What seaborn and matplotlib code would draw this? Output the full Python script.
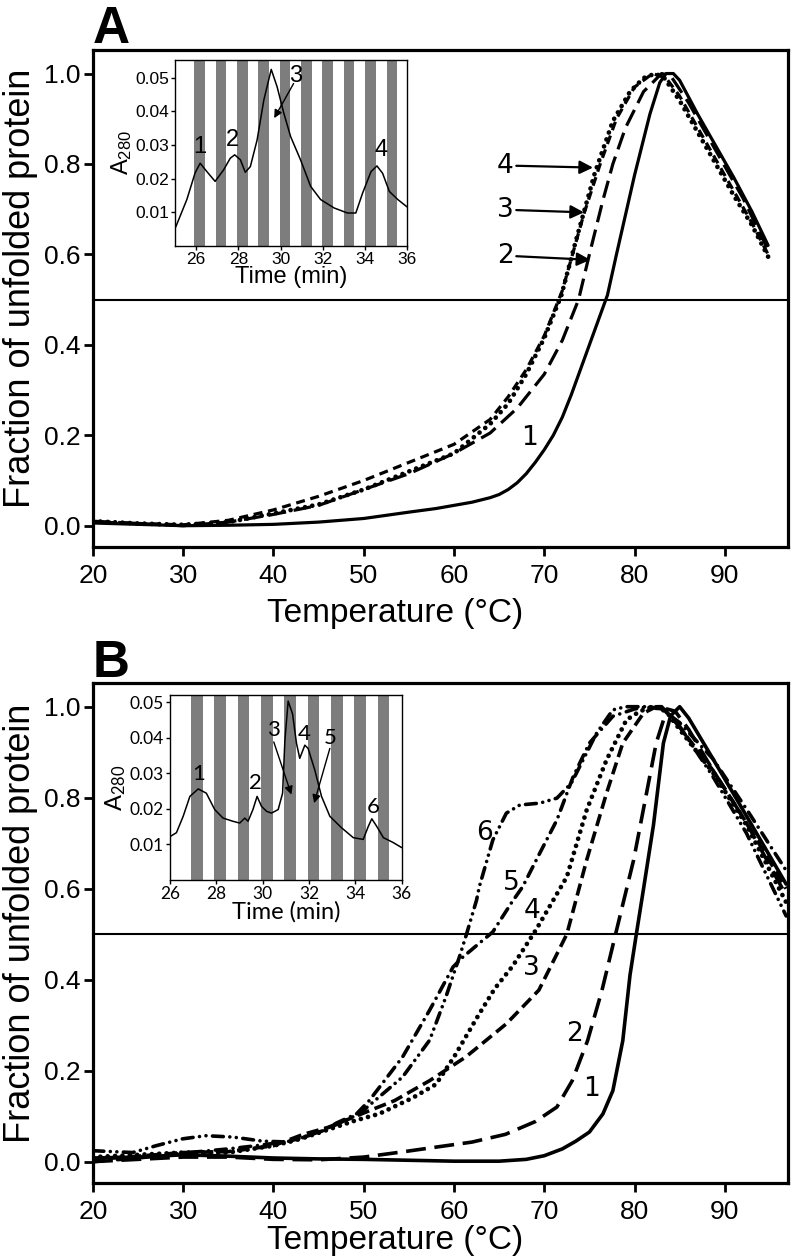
'''
Thermal unfolding curves of the chromatography fractions (panels A and B)
with the A280 elution profiles as insets.
'''

import pandas as pd
import seaborn as sns
import matplotlib.pyplot as plt

# ---- panel A : unfolding curves (temperature in C, fraction unfolded) ----
a1_temp = [20, 25, 30, 35, 40, 45, 50, 55, 58, 60, 62, 64, 65, 66, 67, 68, 69, 70, 71, 72, 73, 74,
           75, 76, 77, 78, 80, 81.7, 82.8, 83.5, 84.3, 85, 87, 89, 91, 93, 94.8]
a1_frac = [0.006, 0.003, 0.0, 0.001, 0.003, 0.008, 0.016, 0.03, 0.038, 0.045, 0.052, 0.062, 0.069,
           0.08, 0.095, 0.115, 0.14, 0.168, 0.2, 0.24, 0.29, 0.345, 0.4, 0.455, 0.51, 0.6, 0.775,
           0.91, 0.98, 1.0, 1.0, 0.985, 0.91, 0.84, 0.77, 0.695, 0.62]
a2_temp = [20, 25, 30, 35, 40, 45, 50, 55, 60, 64, 67, 70, 72, 73.8, 75, 76.5, 77.6, 79, 81, 83,
           84, 86, 88, 90, 92, 94.8]
a2_frac = [0.01, 0.005, 0.0, 0.008, 0.025, 0.045, 0.08, 0.115, 0.16, 0.205, 0.26, 0.335, 0.41, 0.5,
           0.6, 0.72, 0.8, 0.88, 0.96, 1.0, 0.995, 0.935, 0.865, 0.795, 0.725, 0.61]
a3_temp = [20, 25, 30, 35, 40, 45, 50, 55, 60, 64, 66, 68, 70, 72, 74.4, 76.2, 78, 80, 82, 83.5,
           85, 87, 89, 91, 93, 94.8]
a3_frac = [0.008, 0.005, 0.002, 0.012, 0.035, 0.065, 0.1, 0.14, 0.18, 0.235, 0.285, 0.345, 0.42,
           0.52, 0.69, 0.8, 0.9, 0.97, 1.0, 0.99, 0.95, 0.88, 0.81, 0.74, 0.67, 0.6]
a4_temp = [20, 25, 30, 35, 40, 45, 50, 55, 60, 64, 66, 68, 70, 71.9, 73.5, 75.6, 77.6, 79.5, 81,
           82.3, 83.3, 85, 87, 89, 91, 93, 94.8]
a4_frac = [0.01, 0.005, 0.002, 0.008, 0.027, 0.047, 0.08, 0.12, 0.16, 0.225, 0.27, 0.335, 0.415,
           0.51, 0.63, 0.78, 0.895, 0.96, 0.99, 1.0, 0.99, 0.94, 0.87, 0.8, 0.73, 0.665, 0.595]

# ---- panel B : unfolding curves ----
b1_temp = [20, 25, 30, 35, 40, 45, 50, 55, 60, 65, 68, 70, 72, 73.5, 75, 76.5, 77.6, 78.7, 79.5,
           80.2, 81, 82.1, 83.2, 84, 85, 86, 88.7, 92.4, 96.8]
b1_frac = [0.008, 0.01, 0.015, 0.012, 0.008, 0.006, 0.005, 0.003, 0.001, 0.001, 0.005, 0.013, 0.028,
           0.045, 0.065, 0.105, 0.156, 0.266, 0.41, 0.5, 0.6, 0.74, 0.92, 0.98, 1.0, 0.975, 0.885,
           0.76, 0.61]
b2_temp = [20, 25, 30, 35, 40, 45, 50, 54.5, 58.4, 62, 65.7, 69, 71.4, 73.1, 74.8, 76.4, 77.9,
           79.9, 82.4, 83.6, 84.5, 86, 88.7, 92.4, 96.8]
b2_frac = [0.0, 0.005, 0.01, 0.01, 0.005, 0.004, 0.01, 0.022, 0.033, 0.043, 0.06, 0.088, 0.12,
           0.178, 0.266, 0.377, 0.5, 0.663, 0.92, 0.995, 0.99, 0.95, 0.86, 0.745, 0.585]
b3_temp = [20, 25, 30, 35, 40, 43.3, 46, 48.9, 51, 53.4, 57.3, 61.3, 65.8, 69.4, 72.5, 74.7, 76.9,
           78.7, 81, 82.4, 83.5, 85, 88.7, 92.4, 96.8]
b3_frac = [0.005, 0.012, 0.02, 0.022, 0.035, 0.06, 0.075, 0.098, 0.115, 0.134, 0.178, 0.23, 0.303,
           0.377, 0.5, 0.663, 0.81, 0.92, 0.986, 1.0, 0.99, 0.955, 0.86, 0.745, 0.6]
b4_temp = [20, 25, 30, 35, 40, 43, 46, 49, 51.7, 55.4, 58, 60, 62.5, 64.5, 66.5, 69.1, 72.5, 74.7,
           76.9, 79.1, 80.6, 82, 83.5, 85, 88.7, 92.4, 96.8]
b4_frac = [0.01, 0.015, 0.02, 0.02, 0.035, 0.05, 0.07, 0.09, 0.105, 0.14, 0.17, 0.23, 0.315, 0.38,
           0.43, 0.51, 0.626, 0.773, 0.883, 0.971, 0.99, 1.0, 0.99, 0.95, 0.855, 0.74, 0.57]
b5_temp = [20, 25, 30.7, 35, 38.1, 41.8, 45.5, 47, 49.2, 50.6, 54.3, 57.3, 59.9, 61, 64.3, 66.4,
           67.6, 69.5, 71.4, 73.2, 75, 77.6, 80, 81.5, 83, 85, 88.7, 92.4, 96.8]
b5_frac = [0.0, 0.008, 0.02, 0.028, 0.035, 0.045, 0.068, 0.085, 0.105, 0.134, 0.23, 0.333, 0.428,
           0.45, 0.505, 0.57, 0.604, 0.678, 0.751, 0.846, 0.92, 0.979, 0.995, 1.0, 0.995, 0.965,
           0.885, 0.775, 0.64]
b6_temp = [20, 24.4, 27, 29.9, 32.5, 35.5, 38.8, 41.8, 45.5, 49.5, 54.3, 57.3, 59.1, 60.6, 61.4,
           62.5, 62.8, 64.3, 65.8, 67.3, 69.5, 71.4, 73, 74.3, 75.8, 77.6, 79, 81, 83, 85, 88.7,
           92.4, 96.8]
b6_frac = [0.024, 0.02, 0.035, 0.05, 0.057, 0.054, 0.045, 0.043, 0.068, 0.105, 0.186, 0.267, 0.362,
           0.45, 0.501, 0.575, 0.604, 0.707, 0.766, 0.784, 0.788, 0.799, 0.832, 0.883, 0.942, 0.993,
           1.0, 1.0, 1.0, 0.957, 0.846, 0.722, 0.54]

# ---- insets : elution profiles (time in min, A280) and collected fractions ----
ia_time = [25.03, 25.56, 25.95, 26.19, 26.51, 26.9, 27.3, 27.62, 27.83, 28.1, 28.33, 28.57, 28.89,
           29.21, 29.56, 29.84, 30.16, 30.48, 30.95, 31.43, 31.9, 32.54, 33.17, 33.57, 33.89,
           34.29, 34.57, 34.84, 35.16, 35.56, 36.0]
ia_abs = [0.0056, 0.0138, 0.0217, 0.0246, 0.0221, 0.0192, 0.0226, 0.0261, 0.0271, 0.0256, 0.0219,
          0.0236, 0.0315, 0.0434, 0.0525, 0.0473, 0.0394, 0.0325, 0.0256, 0.0177, 0.0138, 0.0113,
          0.0098, 0.0098, 0.0157, 0.0221, 0.0238, 0.0216, 0.0162, 0.0138, 0.0116]
ia_fractions = [25.92, 26.93, 27.94, 28.95, 29.97, 30.98, 31.99, 33.0, 34.01, 35.03]

ib_time = [26.03, 26.28, 26.57, 26.86, 27.22, 27.57, 27.93, 28.29, 28.72, 29.01, 29.23, 29.37,
           29.58, 29.76, 29.95, 30.17, 30.38, 30.67, 30.86, 30.96, 31.1, 31.29, 31.46, 31.6, 31.82,
           31.96, 32.25, 32.54, 32.9, 33.4, 33.91, 34.34, 34.56, 34.71, 34.92, 35.21, 35.64, 36.0]
ib_abs = [0.0123, 0.0133, 0.0179, 0.0235, 0.0256, 0.0244, 0.0198, 0.0174, 0.0165, 0.016, 0.0174,
          0.0165, 0.0198, 0.0235, 0.0207, 0.0193, 0.0188, 0.0198, 0.0244, 0.0393, 0.0503, 0.0467,
          0.0384, 0.0342, 0.0379, 0.037, 0.0309, 0.0235, 0.0179, 0.0147, 0.0119, 0.0114, 0.0151,
          0.0172, 0.0151, 0.0119, 0.0105, 0.0091]
ib_fractions = [26.91, 27.92, 28.92, 29.93, 30.94, 31.94, 32.95, 33.95, 34.96]
fraction_width = 0.5

temp_ticks = [20, 30, 40, 50, 60, 70, 80, 90]
frac_ticks = [0.0, 0.2, 0.4, 0.6, 0.8, 1.0]
abs_ticks = [0.01, 0.02, 0.03, 0.04, 0.05]
time_ticks = [26, 28, 30, 32, 34, 36]

sns.set_style('ticks')
plt.rcParams['font.family'] = ['Liberation Sans', 'DejaVu Sans']
plt.rcParams['mathtext.default'] = 'regular'
for key in ['text.color', 'axes.labelcolor', 'xtick.color', 'ytick.color', 'axes.edgecolor']:
    plt.rcParams[key] = 'black'

SOLID = '-'
LONG_DASH = (0, (5.5, 2.4))
SHORT_DASH = (0, (2.8, 1.8))
MED_DASH = (0, (3.4, 1.6))
DOTS = (0, (0.01, 1.55))
DASH_DOT = (0, (3.0, 1.9, 0.01, 1.9))
DASH_DOT_DOT = (0, (3.0, 1.8, 0.01, 1.8, 0.01, 1.8))


def draw_curve(ax, temp, frac, style, lw=2.3, cap='butt'):
    df = pd.DataFrame({'temp': temp, 'frac': frac})
    sns.lineplot(x='temp', y='frac', data=df, ax=ax, color='black', linewidth=lw,
                 linestyle=style, dash_capstyle=cap, sort=False, errorbar=None)


def style_main(ax, xlabel_y):
    ax.set_xlim(20, 97)
    ax.set_ylim(-0.047, 1.052)
    ax.set_xticks(temp_ticks)
    ax.set_yticks(frac_ticks)
    ax.set_yticklabels([f'{v:.1f}' for v in frac_ticks])
    ax.axhline(0.5, color='black', lw=1.5, zorder=1)
    for sp in ax.spines.values():
        sp.set_linewidth(2.3)
        sp.set_visible(True)
    ax.tick_params(axis='both', labelsize=19, width=2, length=6.5, direction='out')
    ax.tick_params(axis='x', pad=6)
    ax.tick_params(axis='y', pad=2.5)
    ax.set_xlabel('Temperature (°C)', fontsize=24)
    ax.set_ylabel('Fraction of unfolded protein', fontsize=26)
    ax.xaxis.set_label_coords(0.435, xlabel_y)
    # the label is anchored at its descender side, which faces the axis
    ax.yaxis.set_label_coords(-0.079, 0.52)


def draw_inset(ax, time, absorb, fractions, xlim, ylim, family):
    for start in fractions:
        ax.axvspan(start, start + fraction_width, color='#7d7d7d', lw=0, zorder=0)
    prof = pd.DataFrame({'time': time, 'a280': absorb})
    sns.lineplot(x='time', y='a280', data=prof, ax=ax, color='black', linewidth=1.1,
                 sort=False, errorbar=None)
    ax.set_xlim(*xlim)
    ax.set_ylim(*ylim)
    ax.set_xticks(time_ticks)
    ax.set_yticks(abs_ticks)
    ax.set_yticklabels([f'{v:.2f}' for v in abs_ticks], family=family)
    ax.set_xticklabels([str(t) for t in time_ticks], family=family)
    for sp in ax.spines.values():
        sp.set_linewidth(1.0)
        sp.set_visible(True)
    ax.tick_params(axis='both', labelsize=12.5, width=1, length=3, pad=1.5)
    ax.set_xlabel('Time (min)', fontsize=17, labelpad=-1, family=family)
    ax.set_ylabel('A$_{280}$', fontsize=17, labelpad=1, family=family)


fig = plt.figure(figsize=(7.92, 12.6), dpi=100)

# ---------------- panel A ----------------
ax_a = fig.add_axes([0.1174, 0.5659, 0.8775, 0.3944])
draw_curve(ax_a, a1_temp, a1_frac, SOLID)
draw_curve(ax_a, a2_temp, a2_frac, LONG_DASH)
draw_curve(ax_a, a3_temp, a3_frac, SHORT_DASH)
draw_curve(ax_a, a4_temp, a4_frac, DOTS, lw=3.4, cap='round')
style_main(ax_a, -0.102)

arrow_kw = dict(arrowstyle='-|>', color='black', lw=1.6, mutation_scale=20, shrinkA=0, shrinkB=0)
for lab, ty, tip in [('4', 0.796, (75.4, 0.792)), ('3', 0.698, (74.4, 0.693)),
                     ('2', 0.596, (75.1, 0.588))]:
    ax_a.annotate('', xy=tip, xytext=(66.9, ty), arrowprops=arrow_kw)
    ax_a.text(66.6, ty, lab, fontsize=19, ha='right', va='center', family='DejaVu Sans')
ax_a.text(68.4, 0.194, '1', fontsize=19, ha='center', va='center', family='DejaVu Sans')

ins_a = fig.add_axes([0.221, 0.8048, 0.293, 0.1476])
draw_inset(ins_a, ia_time, ia_abs, ia_fractions, (25, 36), (0, 0.0553), 'Liberation Sans')
for lab, x, y in [('1', 26.19, 0.0295), ('2', 27.73, 0.0315), ('3', 30.71, 0.0505),
                  ('4', 34.78, 0.0285)]:
    ins_a.text(x, y, lab, fontsize=17, ha='center', va='center')
ins_a.annotate('', xy=(29.7, 0.038), xytext=(30.62, 0.0483),
               arrowprops=dict(arrowstyle='-|>', color='black', lw=1.0, mutation_scale=12,
                               shrinkA=0, shrinkB=0))

fig.text(0.1174, 1 - 43 / 1260, 'A', fontsize=37, fontweight='bold', ha='left', va='baseline')

# ---------------- panel B ----------------
ax_b = fig.add_axes([0.1174, 0.0611, 0.8775, 0.3968])
draw_curve(ax_b, b1_temp, b1_frac, SOLID, lw=2.6)
draw_curve(ax_b, b2_temp, b2_frac, LONG_DASH, lw=2.6)
draw_curve(ax_b, b3_temp, b3_frac, MED_DASH, lw=2.6)
draw_curve(ax_b, b4_temp, b4_frac, DOTS, lw=3.4, cap='round')
draw_curve(ax_b, b5_temp, b5_frac, DASH_DOT, lw=2.6, cap='round')
draw_curve(ax_b, b6_temp, b6_frac, DASH_DOT_DOT, lw=2.6, cap='round')
style_main(ax_b, -0.084)

for lab, x, y in [('6', 63.4, 0.722), ('5', 66.4, 0.612), ('4', 68.6, 0.55),
                  ('3', 68.6, 0.426), ('2', 73.4, 0.281), ('1', 75.2, 0.16)]:
    ax_b.text(x, y, lab, fontsize=19, ha='center', va='center', family='DejaVu Sans')

ins_b = fig.add_axes([0.2146, 0.3016, 0.2926, 0.1468])
draw_inset(ins_b, ib_time, ib_abs, ib_fractions, (26, 36), (0, 0.052), 'Lato')
for lab, x, y in [('1', 27.22, 0.0298), ('2', 29.7, 0.0272), ('3', 30.48, 0.0423),
                  ('4', 31.78, 0.041), ('5', 32.9, 0.04), ('6', 34.76, 0.0205)]:
    ins_b.text(x, y, lab, fontsize=16, ha='center', va='center', family='Lato')
small_arrow = dict(arrowstyle='-|>', color='black', lw=1.0, mutation_scale=12, shrinkA=0, shrinkB=0)
ins_b.annotate('', xy=(31.24, 0.024), xytext=(30.48, 0.0388), arrowprops=small_arrow)
ins_b.annotate('', xy=(32.22, 0.0216), xytext=(32.9, 0.037), arrowprops=small_arrow)

fig.text(0.1174, 1 - 677 / 1260, 'B', fontsize=37, fontweight='bold', ha='left', va='baseline')

fig.savefig('out.png', dpi=100)
